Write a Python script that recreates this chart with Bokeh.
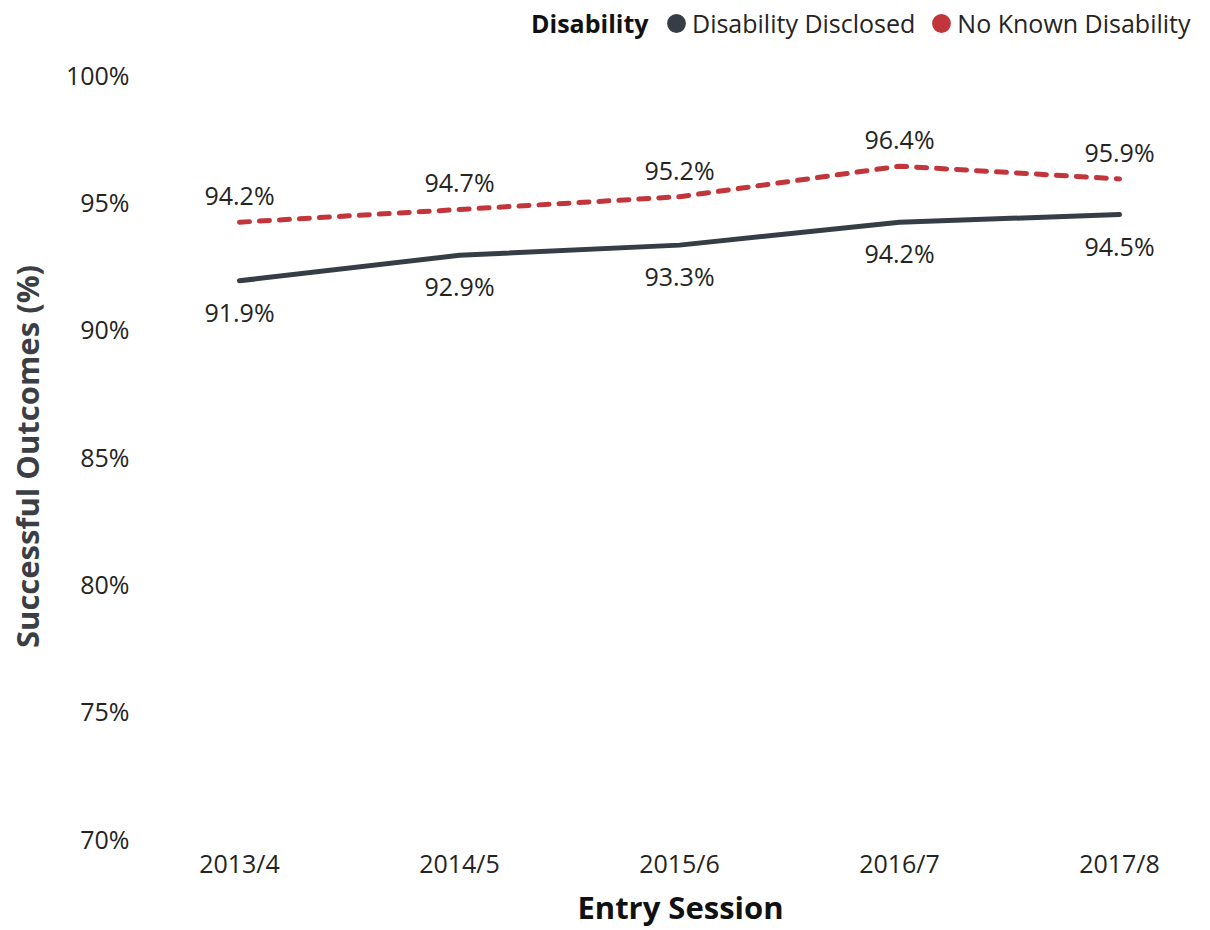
from bokeh.plotting import figure
from bokeh.layouts import column
from bokeh.models import (ColumnDataSource, FixedTicker, Range1d, Legend, LegendItem,
                          Label, PrintfTickFormatter)
from bokeh.core.properties import value
from bokeh.embed import file_html
from bokeh.resources import INLINE

sessions = ["2013/4", "2014/5", "2015/6", "2016/7", "2017/8"]
disclosed = [91.9, 92.9, 93.3, 94.2, 94.5]
no_known = [94.2, 94.7, 95.2, 96.4, 95.9]
y_ticks = [70, 75, 80, 85, 90, 95, 100]
legend_title = "Disability"
series_names = ["Disability Disclosed", "No Known Disability"]

FONT = "Open Sans"
DARK = "#363d45"
RED = "#c1353b"
TXT = "#252423"
FS = "25px"

xs = list(range(len(sessions)))
src_d = ColumnDataSource(dict(x=xs, y=disclosed, lab=[f"{v:.1f}%" for v in disclosed]))
src_n = ColumnDataSource(dict(x=xs, y=no_known, lab=[f"{v:.1f}%" for v in no_known]))

# ---------- legend strip (its markers fall outside its own ranges; they only feed the legend) ----------
lg = figure(width=1210, height=54, output_backend="svg", toolbar_location=None,
            x_range=Range1d(-0.4045, 4.4136), y_range=Range1d(0, 1),
            min_border_left=0, min_border_right=0, min_border_top=0, min_border_bottom=0)
lg.axis.visible = False
lg.grid.visible = False
lg.outline_line_color = None
r_d = lg.scatter("x", "y", source=src_d, size=0, marker="circle", fill_color=DARK,
                 line_color=DARK, line_width=6)
r_n = lg.scatter("x", "y", source=src_n, size=0, marker="circle", fill_color=RED,
                 line_color=RED, line_width=6)
legend = Legend(items=[LegendItem(label=series_names[0], renderers=[r_d]),
                       LegendItem(label=series_names[1], renderers=[r_n])],
                orientation="horizontal", location=(510, 14),
                glyph_width=32, glyph_height=32, label_standoff=0, spacing=10,
                padding=0, margin=0, border_line_color=None, background_fill_alpha=0,
                label_text_font=FONT, label_text_font_size=FS, label_text_color=TXT,
                label_height=32)
lg.add_layout(legend, "center")
lg.add_layout(Label(x=498, y=32, x_units="screen", y_units="screen", text=legend_title,
                    text_align="right", text_baseline="middle", text_font=FONT,
                    text_font_size=FS, text_font_style="bold", text_color="#111111"))

# ---------- main chart ----------
p = figure(width=1210, height=876, output_backend="svg", toolbar_location=None,
           x_range=Range1d(-0.4045, 4.4136), y_range=Range1d(70, 100),
           min_border_left=150, min_border_right=0, min_border_top=20, min_border_bottom=92)
p.outline_line_color = None
p.grid.visible = False
p.background_fill_color = "white"
p.border_fill_color = "white"

p.xaxis.ticker = FixedTicker(ticks=xs)
p.xaxis.major_label_overrides = {i: s for i, s in enumerate(sessions)}
p.yaxis.ticker = FixedTicker(ticks=y_ticks)
p.yaxis.formatter = PrintfTickFormatter(format="%d%%")
for ax in (p.xaxis, p.yaxis):
    ax.axis_line_color = None
    ax.major_tick_line_color = None
    ax.minor_tick_line_color = None
    ax.major_tick_out = 0
    ax.major_tick_in = 0
    ax.major_label_text_font = FONT
    ax.major_label_text_font_size = FS
    ax.major_label_text_color = TXT
    ax.axis_label_text_font = FONT
    ax.axis_label_text_font_style = "bold"
    ax.axis_label_text_font_size = "31px"
p.xaxis.axis_label = "Entry Session"
p.xaxis.axis_label_text_color = "#111111"
p.xaxis.major_label_standoff = 7
p.xaxis.axis_label_standoff = 3
p.yaxis.axis_label = "Successful Outcomes (%)"
p.yaxis.axis_label_text_color = "#3b3f45"
p.yaxis.major_label_standoff = 21
p.yaxis.axis_label_standoff = 15

p.line("x", "y", source=src_d, line_color=DARK, line_width=5, line_cap="round", line_join="round")
p.line("x", "y", source=src_n, line_color=RED, line_width=5, line_cap="round",
       line_join="round", line_dash="10 10")

p.text("x", "y", text="lab", source=src_n, y_offset=-27, text_align="center",
       text_baseline="middle", text_font=value(FONT), text_font_size=FS, text_color=TXT)
p.text("x", "y", text="lab", source=src_d, y_offset=31, text_align="center",
       text_baseline="middle", text_font=value(FONT), text_font_size=FS, text_color=TXT)

layout = column(lg, p, spacing=0)
open("out.html", "w").write(file_html(layout, INLINE))
